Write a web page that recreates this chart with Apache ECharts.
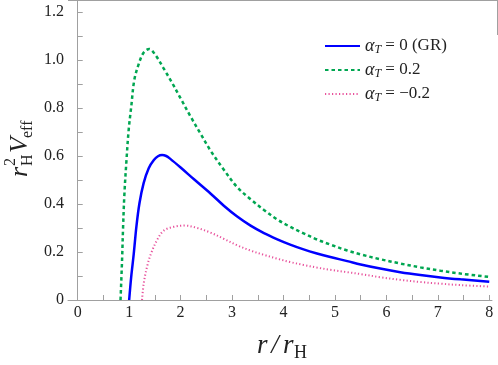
<!DOCTYPE html>
<html><head><meta charset="utf-8">
<script src="https://cdn.jsdelivr.net/npm/echarts@6/dist/echarts.min.js"></script>
<style>html,body{margin:0;padding:0;background:#fff}#c{width:498px;height:365px}</style>
</head><body><div id="c"></div>
<script>
// ---- data ----
const xTickValues = [0,0.5,1,1.5,2,2.5,3,3.5,4,4.5,5,5.5,6,6.5,7,7.5,8];
const xLabelValues = [0,1,2,3,4,5,6,7,8];
const yTickValues = [0,0.1,0.2,0.3,0.4,0.5,0.6,0.7,0.8,0.9,1.0,1.1,1.2];
const yLabelValues = [0,0.2,0.4,0.6,0.8,1.0,1.2];

const nameGR = 'gr', nameP = 'p', nameM = 'm';
const legendParts = {
  gr: ['α', 'T', ' = 0 (GR)'],
  p:  ['α', 'T', ' = 0.2'],
  m:  ['α', 'T', ' = −0.2']
};

const grX = [1.0,1.04,1.09,1.14,1.2,1.28,1.38,1.48,1.56,1.64,1.72,1.8,2.0,2.26,2.58,2.84,3.1,3.36,3.62,3.88,4.13,4.39,4.65,4.91,5.24,5.5,5.88,6.27,6.66,7.05,7.44,8.0];
const grY = [0,0.097,0.194,0.305,0.403,0.486,0.549,0.583,0.599,0.604,0.600,0.588,0.552,0.503,0.444,0.393,0.348,0.31,0.279,0.253,0.231,0.211,0.194,0.179,0.162,0.148,0.131,0.116,0.104,0.094,0.086,0.076];

const pX = [0.832,0.862,0.882,0.908,0.947,0.99,1.04,1.1,1.19,1.28,1.39,1.51,1.67,1.84,2.0,2.19,2.385,2.58,2.84,3.1,3.36,3.62,3.88,4.13,4.39,4.65,4.91,5.24,5.5,5.88,6.27,6.66,7.05,7.44,8.0];
const pY = [0,0.167,0.305,0.444,0.58,0.708,0.805,0.917,0.986,1.03,1.046,1.021,0.965,0.903,0.84,0.766,0.694,0.623,0.543,0.47,0.42,0.375,0.335,0.305,0.278,0.252,0.231,0.206,0.19,0.17,0.152,0.136,0.122,0.11,0.096];

const mX = [1.25,1.283,1.348,1.426,1.543,1.672,1.866,2.093,2.32,2.58,2.84,3.1,3.36,3.62,3.88,4.13,4.39,4.65,4.91,5.24,5.5,5.88,6.27,6.66,7.05,7.44,8.0];
const mY = [0,0.069,0.139,0.194,0.25,0.289,0.305,0.31,0.3,0.281,0.255,0.228,0.206,0.188,0.172,0.158,0.146,0.135,0.126,0.116,0.108,0.095,0.084,0.075,0.068,0.062,0.056];

const pairs = (xs, ys) => xs.map((x, i) => [x, ys[i]]);

const SERIF = 'Liberation Serif';
const AX = '#a0a0a0';
const TXT = '#222';

const chart = echarts.init(document.getElementById('c'), null, {renderer: 'canvas'});

function mk(id, xs, ys, color, width, type) {
  return {
    name: id, type: 'line', data: pairs(xs, ys),
    showSymbol: false, symbol: 'none', smooth: 0.35,
    lineStyle: {color: color, width: width, type: type},
    itemStyle: {color: color},
    clip: true, animation: false
  };
}

const option = {
  animation: false,
  backgroundColor: '#fff',
  grid: {left: 68, right: 6, top: 0, bottom: 65, containLabel: false},
  xAxis: {
    type: 'value', min: -0.189, max: 8.053,
    axisLine: {show: true, lineStyle: {color: AX, width: 1}},
    axisTick: {show: true, inside: true, length: 5, lineStyle: {color: AX}, customValues: xTickValues},
    axisLabel: {show: true, customValues: xLabelValues, margin: 5, color: TXT,
      fontFamily: SERIF, fontSize: 16, formatter: v => String(v)},
    splitLine: {show: false}
  },
  yAxis: {
    type: 'value', min: 0, max: 1.25,
    axisLine: {show: true, lineStyle: {color: AX, width: 1}},
    axisTick: {show: true, inside: true, length: 5, lineStyle: {color: AX}, customValues: yTickValues},
    axisLabel: {show: true, customValues: yLabelValues, margin: 4, color: TXT,
      fontFamily: SERIF, fontSize: 16, formatter: v => (v === 0 ? '0' : v.toFixed(1))},
    splitLine: {show: false}
  },
  legend: {
    orient: 'vertical', left: 319, top: 32, itemWidth: 35, itemHeight: 14, itemGap: 5,
    data: [nameGR, nameP, nameM],
    itemStyle: {opacity: 0},
    formatter: n => '{a|' + legendParts[n][0] + '}{s|' + legendParts[n][1] + '}{n|' + legendParts[n][2] + '}',
    textStyle: {
      color: TXT, fontFamily: SERIF, fontSize: 17,
      rich: {
        a: {fontFamily: SERIF, fontStyle: 'italic', fontSize: 18, color: TXT},
        s: {fontFamily: SERIF, fontStyle: 'italic', fontSize: 12, color: TXT, padding: [8, 0, 0, 0]},
        n: {fontFamily: SERIF, fontSize: 17, color: TXT}
      }
    }
  },
  graphic: [
    {type: 'line', shape: {x1: 68, y1: 0.5, x2: 497.5, y2: 0.5}, style: {stroke: AX, lineWidth: 1}, silent: true},
    {type: 'line', shape: {x1: 497.5, y1: 0, x2: 497.5, y2: 35}, style: {stroke: AX, lineWidth: 1}, silent: true},
    {type: 'group', x: 20, y: 150, rotation: Math.PI / 2, silent: true, children: [
      {type: 'text', x: -27, y: 0, style: {text: 'r', font: 'italic 26px ' + SERIF, fill: TXT, textAlign: 'left', textVerticalAlign: 'middle'}},
      {type: 'text', x: -16, y: -9, style: {text: '2', font: '16px ' + SERIF, fill: TXT, textAlign: 'left', textVerticalAlign: 'middle'}},
      {type: 'text', x: -16, y: 8, style: {text: 'H', font: '16px ' + SERIF, fill: TXT, textAlign: 'left', textVerticalAlign: 'middle'}},
      {type: 'text', x: -3, y: 0, style: {text: 'V', font: 'italic 26px ' + SERIF, fill: TXT, textAlign: 'left', textVerticalAlign: 'middle'}},
      {type: 'text', x: 12, y: 8, style: {text: 'eff', font: '16px ' + SERIF, fill: TXT, textAlign: 'left', textVerticalAlign: 'middle'}}
    ]},
    {type: 'group', x: 283, y: 346, silent: true, children: [
      {type: 'text', x: -26, y: 0, style: {text: 'r', font: 'italic 27px ' + SERIF, fill: TXT, textAlign: 'left', textVerticalAlign: 'middle'}},
      {type: 'text', x: -8, y: 0, style: {text: '/', font: 'italic 27px ' + SERIF, fill: TXT, textAlign: 'center', textVerticalAlign: 'middle'}},
      {type: 'text', x: 0, y: 0, style: {text: 'r', font: 'italic 27px ' + SERIF, fill: TXT, textAlign: 'left', textVerticalAlign: 'middle'}},
      {type: 'text', x: 11, y: 7, style: {text: 'H', font: '18px ' + SERIF, fill: TXT, textAlign: 'left', textVerticalAlign: 'middle'}}
    ]}
  ],
  series: [
    mk(nameGR, grX, grY, '#0000ff', 2.5, 'solid'),
    mk(nameP, pX, pY, '#00a651', 2.5, [3.5, 3]),
    mk(nameM, mX, mY, '#e8529c', 2, [1.2, 2.3])
  ]
};
chart.setOption(option);
</script>
</body></html>
